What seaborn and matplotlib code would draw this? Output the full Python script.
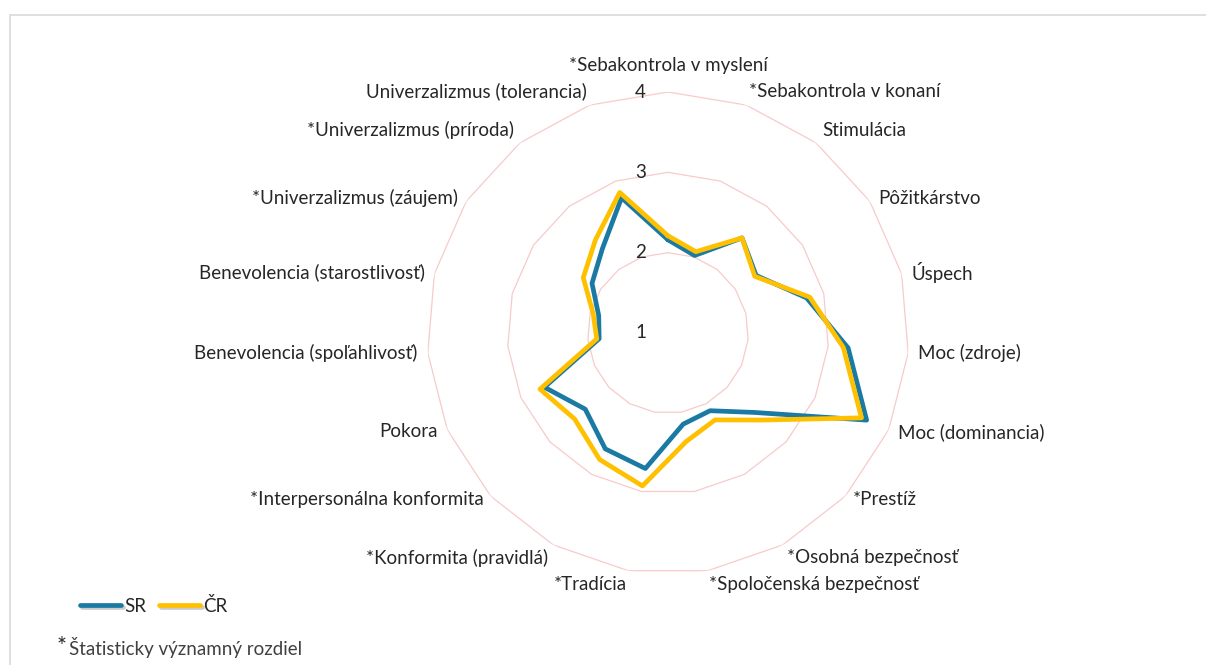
import numpy as np
import pandas as pd
import matplotlib
matplotlib.use("Agg")
import matplotlib.pyplot as plt
import matplotlib.patheffects as pe
from matplotlib.patches import Rectangle
import seaborn as sns

sns.set_theme(style="white")
plt.rcParams["font.family"] = ["Lato", "DejaVu Sans"]

# hodnoty odčítané z grafu
kategorie = [
    "*Sebakontrola v myslení", "*Sebakontrola v konaní", "Stimulácia",
    "Pôžitkárstvo", "Úspech", "Moc (zdroje)", "Moc (dominancia)", "*Prestíž",
    "*Osobná bezpečnosť", "*Spoločenská bezpečnosť", "*Tradícia",
    "*Konformita (pravidlá)", "*Interpersonálna konformita", "Pokora",
    "Benevolencia (spoľahlivosť)", "Benevolencia (starostlivosť)",
    "*Univerzalizmus (záujem)", "*Univerzalizmus (príroda)",
    "Univerzalizmus (tolerancia)",
]
sr = [2.16, 2.02, 2.50, 2.31, 2.78, 3.25, 3.70, 2.46, 2.10, 2.15,
      2.71, 2.64, 2.40, 2.68, 1.86, 1.89, 2.13, 2.33, 2.78]
cr = [2.21, 2.07, 2.50, 2.29, 2.82, 3.19, 3.63, 2.60, 2.23, 2.37,
      2.93, 2.79, 2.58, 2.74, 1.89, 1.96, 2.26, 2.47, 2.85]
serie = ["SR", "ČR"]
os_hodnoty = [1, 2, 3, 4]

farby = {"SR": "#1A7AA3", "ČR": "#FFC000"}
mriezka = "#F8CACA"

n = len(kategorie)
uhly = np.linspace(0, 2 * np.pi, n, endpoint=False)
uhly_uzavrete = np.append(uhly, 2 * np.pi)

riadky = []
for nazov, hodnoty in zip(serie, [sr, cr]):
    for t, v in zip(uhly_uzavrete, hodnoty + hodnoty[:1]):
        riadky.append({"uhol": t, "hodnota": v, "serie": nazov})
df = pd.DataFrame(riadky)

W, H = 1206, 665
fig = plt.figure(figsize=(W / 100, H / 100), dpi=100)
cx, cy, R = 668, 333, 241
ax = fig.add_axes([(cx - R) / W, (H - cy - R) / H, 2 * R / W, 2 * R / H],
                  projection="polar")
ax.set_theta_zero_location("N")
ax.set_theta_direction(-1)
ax.set_ylim(1, 4)
ax.grid(False)
ax.set_xticks([])
ax.set_yticks([])
ax.spines["polar"].set_visible(False)
ax.patch.set_alpha(0)

for r in os_hodnoty[1:]:
    ax.plot(uhly_uzavrete, [r] * (n + 1), color=mriezka, lw=0.9, zorder=0)

sns.lineplot(data=df, x="uhol", y="hodnota", hue="serie", palette=farby,
             sort=False, estimator=None, lw=3.4, ax=ax, legend=True)
for line in ax.lines[-2:]:
    line.set_solid_joinstyle("round")
    line.set_path_effects([
        pe.SimpleLineShadow(offset=(1.2, -1.2), alpha=0.3, shadow_color="#555555"),
        pe.Normal(),
    ])
    line.set_clip_on(False)

handles, labels = ax.get_legend_handles_labels()
ax.get_legend().remove()

fs = 13.5
for r in os_hodnoty:
    ax.annotate(str(r), xy=(0, r), xytext=(-22, 0), textcoords="offset pixels",
                ha="right", va="center", fontsize=fs, color="#262626")

for k, (t, nazov) in enumerate(zip(uhly, kategorie)):
    s, c = np.sin(t), np.cos(t)
    ha = "center" if abs(s) < 0.1 else ("left" if s > 0 else "right")
    va = "bottom" if c > 0.7 else ("top" if c < -0.8 else "center")
    dx = 10 * s
    dy = 5 * c + (13 if k == 0 else 0)
    ax.annotate(nazov, xy=(t, 4), xytext=(dx, dy), textcoords="offset pixels",
                ha=ha, va=va, fontsize=fs, color="#262626", annotation_clip=False)

fig.legend(handles, labels, loc="center left", bbox_to_anchor=(80 / W, 1 - 606 / H),
           ncol=2, frameon=False, fontsize=fs, handlelength=2.2, handletextpad=0.15,
           columnspacing=0.7, borderpad=0, borderaxespad=0)

fig.text(57 / W, 1 - 647 / H, "*", fontsize=17, ha="left", va="center", color="#262626")
fig.text(69 / W, 1 - 647 / H, "Štatisticky významný rozdiel", fontsize=13.5,
         ha="left", va="center", color="#404040")

fig.patches.append(Rectangle((9.5 / W, -0.05), 1.1, 1.05 - 14.5 / H,
                             transform=fig.transFigure, fill=False,
                             edgecolor="#D9D9D9", lw=1.2))

fig.savefig("out.png", dpi=100)
